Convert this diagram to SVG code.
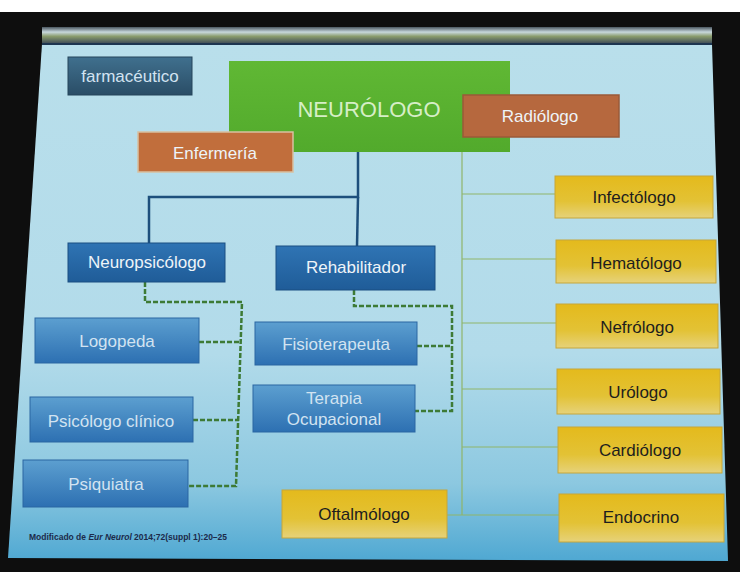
<svg xmlns="http://www.w3.org/2000/svg" width="740" height="572" viewBox="0 0 740 572">
<defs>
<linearGradient id="bg" x1="0" y1="0" x2="0" y2="1">
<stop offset="0" stop-color="#b9dfeb"/>
<stop offset="0.6" stop-color="#b2dbea"/>
<stop offset="0.85" stop-color="#8cc8e0"/>
<stop offset="1" stop-color="#4fa8d2"/>
</linearGradient>
<linearGradient id="bar" x1="0" y1="0" x2="0" y2="1">
<stop offset="0" stop-color="#4a5660"/>
<stop offset="0.3" stop-color="#c8d8dc"/>
<stop offset="0.55" stop-color="#8a9c6c"/>
<stop offset="1" stop-color="#3a4656"/>
</linearGradient>
<linearGradient id="gFarm" x1="0" y1="0" x2="0" y2="1">
<stop offset="0" stop-color="#40708e"/>
<stop offset="1" stop-color="#2a4d66"/>
</linearGradient>
<linearGradient id="gGreen" x1="0" y1="0" x2="0" y2="1">
<stop offset="0" stop-color="#60b834"/>
<stop offset="1" stop-color="#52aa2c"/>
</linearGradient>
<linearGradient id="gYel" x1="0" y1="0" x2="0" y2="1">
<stop offset="0" stop-color="#e4ba1c"/>
<stop offset="0.6" stop-color="#e3c235"/>
<stop offset="1" stop-color="#e6d27a"/>
</linearGradient>
<linearGradient id="gDark" x1="0" y1="0" x2="0" y2="1">
<stop offset="0" stop-color="#2f74b4"/>
<stop offset="1" stop-color="#1f5c98"/>
</linearGradient>
<linearGradient id="gLight" x1="0" y1="0" x2="0" y2="1">
<stop offset="0" stop-color="#5c9fd0"/>
<stop offset="1" stop-color="#2d70b2"/>
</linearGradient>
</defs>
<style>
text{font-family:"Liberation Sans",Arial,sans-serif;font-size:17px;text-anchor:middle}
.w{fill:#eef4f8}
.lt{fill:#d2e3f1}
.dk{fill:#1e1e1e}
.cit{font-size:9.5px;text-anchor:start;font-weight:bold;fill:#1c2a4a}
.yel{fill:url(#gYel);stroke:#c6a63a;stroke-width:1}
.drk{fill:url(#gDark);stroke:#1a4e82;stroke-width:1}
.lgt{fill:url(#gLight);stroke:#2a66a2;stroke-width:1}
.org{fill:#c16e3c;stroke:#d8c0a0;stroke-width:1.5}
.tree{fill:none;stroke:#1d4f7c;stroke-width:2.5}
.thin{fill:none;stroke:#8fb56a;stroke-width:1.2}
.dash{fill:none;stroke:#3d7a35;stroke-width:2.5;stroke-dasharray:5 2}
</style>
<rect x="0" y="0" width="740" height="572" fill="#0e0e0e"/>
<rect x="0" y="0" width="740" height="12" fill="#ffffff"/>
<polygon points="42,44 712,44 728,561 8,558" fill="url(#bg)"/>
<rect x="42" y="27" width="670" height="17" fill="url(#bar)"/>
<rect x="42" y="43" width="670" height="2" fill="#1d3550"/>

<g id="connectors">
<polyline class="tree" points="358,152 358,197 149,197 149,243"/>
<line class="tree" x1="358" y1="197" x2="357" y2="246"/>
<line class="thin" x1="462" y1="152" x2="462" y2="515"/>
<line class="thin" x1="462" y1="194" x2="555" y2="194"/>
<line class="thin" x1="462" y1="259" x2="556" y2="259"/>
<line class="thin" x1="462" y1="323" x2="556" y2="323"/>
<line class="thin" x1="462" y1="389" x2="557" y2="389"/>
<line class="thin" x1="462" y1="447" x2="558" y2="447"/>
<line class="thin" x1="447" y1="515" x2="559" y2="515"/>
<polyline class="dash" points="145,282 145,302 242,302 236,486 188,486"/>
<line class="dash" x1="199" y1="342" x2="241" y2="342"/>
<line class="dash" x1="193" y1="420" x2="239" y2="420"/>
<polyline class="dash" points="354,290 354,306 452,306 452,411 415,411"/>
<line class="dash" x1="417" y1="346" x2="452" y2="346"/>
</g>

<g id="farmaceutico"><rect x="68" y="57" width="124" height="38" fill="url(#gFarm)" stroke="#24445a"/><text x="130" y="82" class="lt">farmacéutico</text></g>
<g id="neurologo"><rect x="229" y="61" width="281" height="91" fill="url(#gGreen)"/><text x="369" y="117" style="font-size:22px" fill="#d6eec6">NEURÓLOGO</text></g>
<g id="enfermeria"><rect x="138" y="132" width="155" height="40" class="org"/><text x="215" y="159" class="w">Enfermería</text></g>
<g id="radiologo"><rect x="463" y="95" width="156" height="42" class="org" style="fill:#b6683e;stroke:#9a5a38"/><text x="540" y="122" class="w">Radiólogo</text></g>

<g id="infectologo"><rect x="555" y="176" width="158" height="42" class="yel"/><text x="634" y="203" class="dk">Infectólogo</text></g>
<g id="hematologo"><rect x="556" y="240" width="160" height="43" class="yel"/><text x="636" y="269" class="dk">Hematólogo</text></g>
<g id="nefrologo"><rect x="556" y="304" width="162" height="44" class="yel"/><text x="637" y="333" class="dk">Nefrólogo</text></g>
<g id="urologo"><rect x="557" y="369" width="163" height="45" class="yel"/><text x="638" y="398" class="dk">Urólogo</text></g>
<g id="cardiologo"><rect x="558" y="427" width="164" height="46" class="yel"/><text x="640" y="456" class="dk">Cardiólogo</text></g>
<g id="endocrino"><rect x="559" y="494" width="165" height="48" class="yel"/><text x="641" y="523" class="dk">Endocrino</text></g>
<g id="oftalmologo"><rect x="282" y="490" width="165" height="48" class="yel"/><text x="364" y="520" class="dk">Oftalmólogo</text></g>

<g id="neuropsicologo"><rect x="68" y="243" width="157" height="39" class="drk"/><text x="147" y="268" class="w">Neuropsicólogo</text></g>
<g id="rehabilitador"><rect x="276" y="246" width="159" height="44" class="drk"/><text x="356" y="273" class="w">Rehabilitador</text></g>
<g id="logopeda"><rect x="35" y="318" width="164" height="45" class="lgt"/><text x="117" y="347" class="lt">Logopeda</text></g>
<g id="fisioterapeuta"><rect x="255" y="322" width="162" height="43" class="lgt"/><text x="336" y="350" class="lt">Fisioterapeuta</text></g>
<g id="psicologo"><rect x="30" y="397" width="163" height="45" class="lgt"/><text x="111" y="427" class="lt">Psicólogo clínico</text></g>
<g id="terapia"><rect x="253" y="385" width="162" height="47" class="lgt"/><text x="334" y="404" class="lt">Terapia</text><text x="334" y="425" class="lt">Ocupacional</text></g>
<g id="psiquiatra"><rect x="23" y="460" width="165" height="47" class="lgt"/><text x="106" y="490" class="lt">Psiquiatra</text></g>

<text class="cit" transform="translate(29,540) scale(0.894,1)" x="0" y="0">Modificado de <tspan font-style="italic">Eur Neurol</tspan> 2014;72(suppl 1):20–25</text>
</svg>
